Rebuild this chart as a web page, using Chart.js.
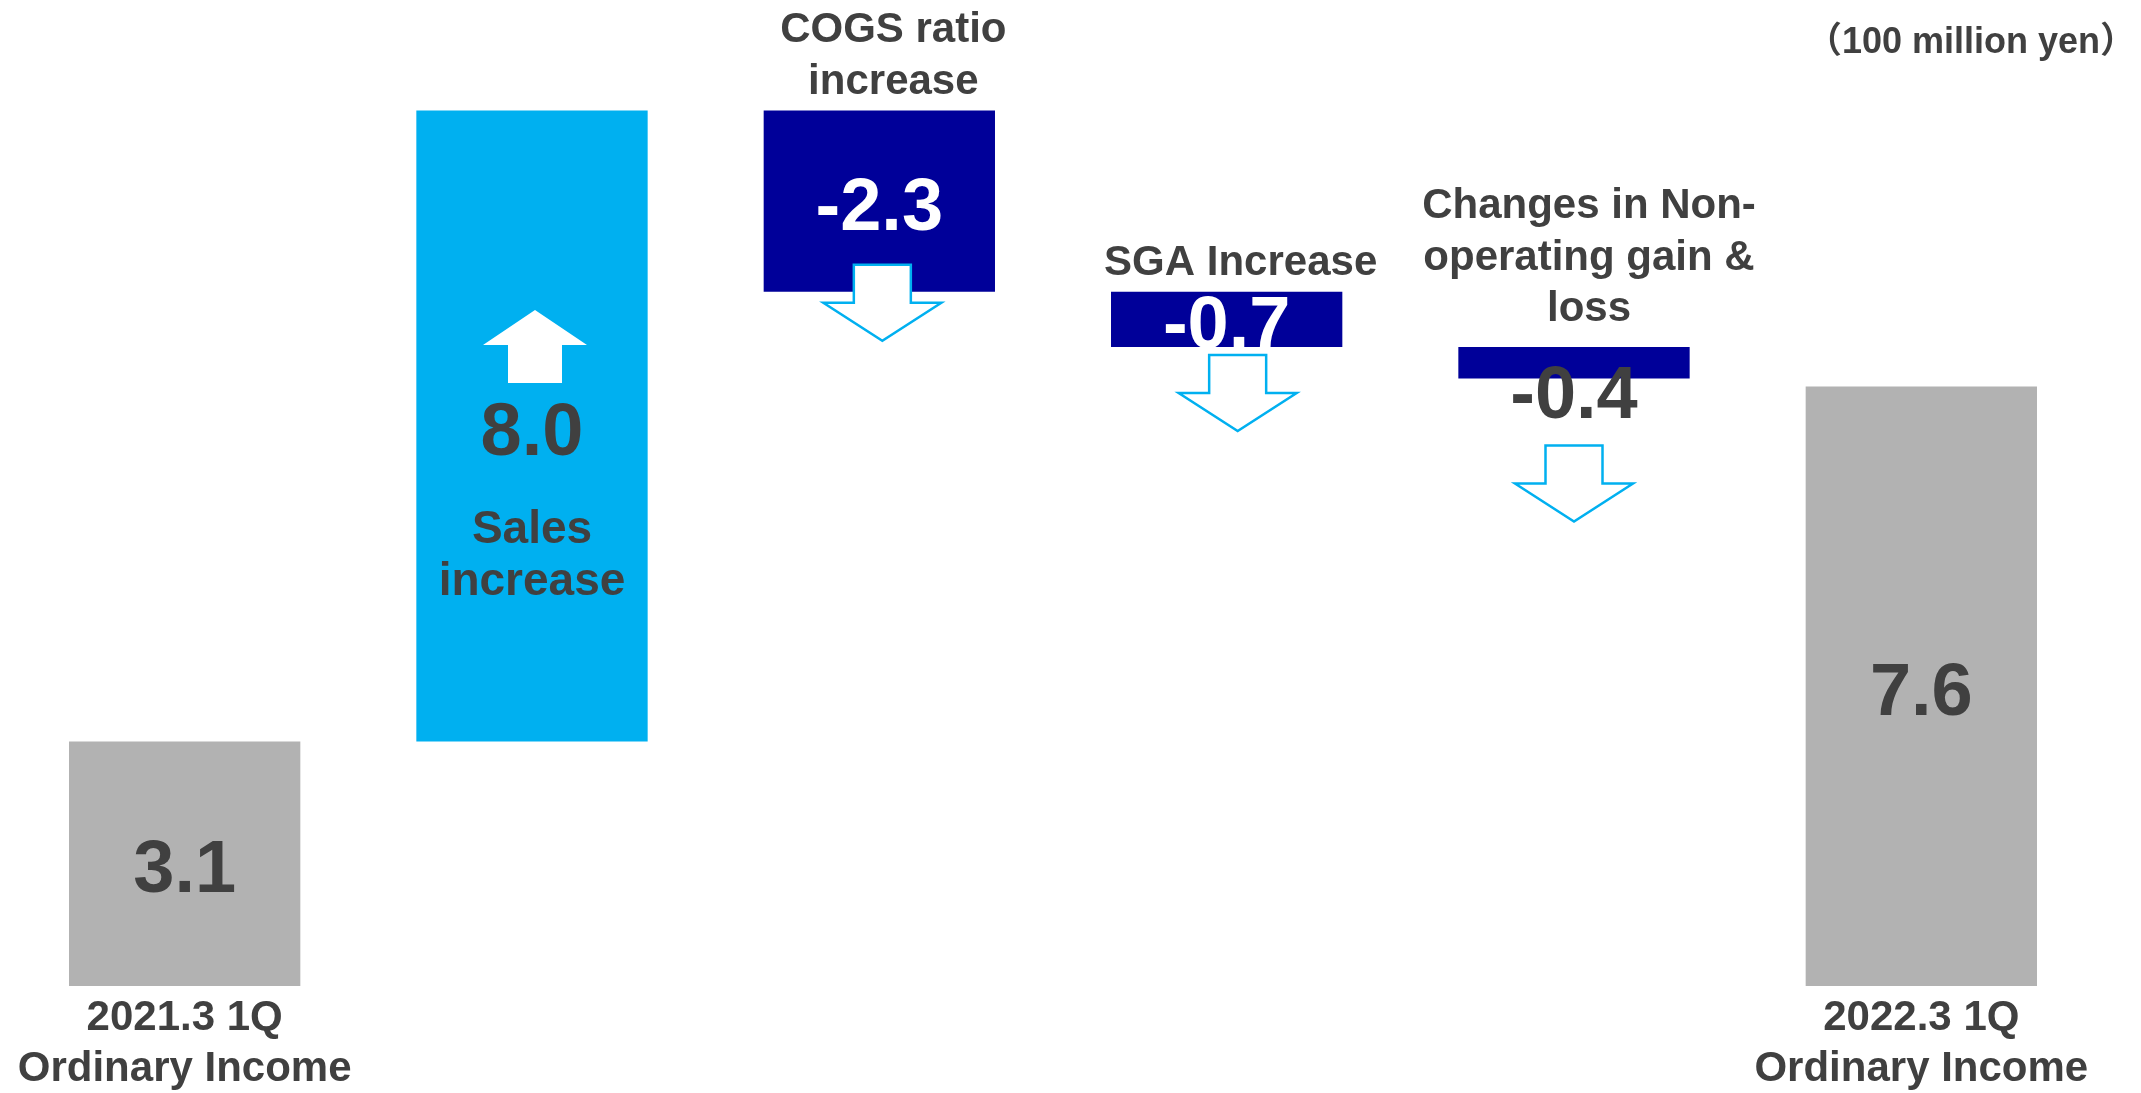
<!DOCTYPE html>
<html>
<head>
<meta charset="utf-8">
<title>Ordinary Income Bridge</title>
<script src="https://cdn.jsdelivr.net/npm/chart.js@4.4.1/dist/chart.umd.min.js"></script>
<style>
    html, body { margin: 0; padding: 0; background: #ffffff; }
    canvas { display: block; }
</style>
</head>
<body>
<canvas id="bridgeChart" width="2141" height="1093"></canvas>
<script>

// Ordinary income bridge, 2021.3 1Q -> 2022.3 1Q (100 million yen)
const categories = [
    ['2021.3 1Q', 'Ordinary Income'],
    '',
    '',
    '',
    '',
    ['2022.3 1Q', 'Ordinary Income'],
]
const stepValues = [3.1, 8.0, -2.3, -0.7, -0.4, 7.6]
const stepTypes = ['total', 'increase', 'decrease', 'decrease', 'decrease', 'total']
const stepCaptions = [
    [],
    ['Sales', 'increase'],
    ['COGS ratio', 'increase'],
    ['SGA Increase'],
    ['Changes in Non-', 'operating gain &', 'loss'],
    [],
]
const unitLabel = '（100 million yen）'

const FONT = "'Liberation Sans', Arial, 'Noto Sans CJK JP', sans-serif"
const TEXT_GREY = '#404040'
const typeColors = {
    total: '#B2B2B2',
    increase: '#00B0F0',
    decrease: '#000099',
}

// floating [start, end] ranges built from the running total
let runningTotal = 0
const barRanges = stepValues.map(function(v, i) {
    if (stepTypes[i] === 'total') {
        runningTotal = v
        return [0, v]
    }
    const start = runningTotal
    runningTotal = runningTotal + v
    return [start, runningTotal]
})

// per-bar label / arrow placement (pixels, relative to the bar)
const decor = [
    { valueColor: TEXT_GREY },
    { valueColor: TEXT_GREY, arrow: 'up' },
    { valueColor: '#FFFFFF', arrow: 'down', arrowDx: 3, arrowTop: -27, captionDx: 14, captionGap: 32 },
    { valueColor: '#FFFFFF', arrow: 'down', arrowDx: 11, arrowTop: 8, captionDx: 14, captionGap: 32 },
    { valueColor: TEXT_GREY, arrow: 'down', arrowDx: 0, arrowTop: 67, captionDx: 15, captionGap: 41, valueBelow: 13 },
    { valueColor: TEXT_GREY },
]

function drawText(ctx, text, x, cy, size, color, align) {
    ctx.font = 'bold ' + size + 'px ' + FONT
    ctx.fillStyle = color
    ctx.textAlign = align || 'center'
    ctx.textBaseline = 'alphabetic'
    // cy is the middle of the capitals
    ctx.fillText(text, x, cy + size * 0.36)
}

function drawUpArrow(ctx, x, bottom) {
    const shaft = 27, head = 52
    const baseY = bottom - 38
    const tipY = baseY - 35
    ctx.beginPath()
    ctx.moveTo(x - shaft, bottom)
    ctx.lineTo(x - shaft, baseY)
    ctx.lineTo(x - head, baseY)
    ctx.lineTo(x, tipY)
    ctx.lineTo(x + head, baseY)
    ctx.lineTo(x + shaft, baseY)
    ctx.lineTo(x + shaft, bottom)
    ctx.closePath()
    ctx.fillStyle = '#FFFFFF'
    ctx.fill()
}

function drawDownArrow(ctx, x, top) {
    const shaft = 28.5, head = 59
    const baseY = top + 38
    const tipY = baseY + 38
    ctx.beginPath()
    ctx.moveTo(x - shaft, top)
    ctx.lineTo(x - shaft, baseY)
    ctx.lineTo(x - head, baseY)
    ctx.lineTo(x, tipY)
    ctx.lineTo(x + head, baseY)
    ctx.lineTo(x + shaft, baseY)
    ctx.lineTo(x + shaft, top)
    ctx.closePath()
    ctx.fillStyle = '#FFFFFF'
    ctx.fill()
    ctx.lineWidth = 2.5
    ctx.lineJoin = 'miter'
    ctx.strokeStyle = '#00B0F0'
    ctx.stroke()
}

const bridgeDecor = {
    id: 'bridgeDecor',
    afterDatasetsDraw: function(chart) {
        const ctx = chart.ctx
        const bars = chart.getDatasetMeta(0).data
        ctx.save()

        bars.forEach(function(bar, i) {
            const d = decor[i]
            const top = Math.min(bar.y, bar.base)
            const bottom = Math.max(bar.y, bar.base)
            const mid = (top + bottom) / 2

            // value label
            const valueY = d.valueBelow ? bottom + d.valueBelow : mid + 2
            drawText(ctx, stepValues[i].toFixed(1), bar.x, valueY, 74, d.valueColor)

            if (d.arrow === 'up') {
                drawUpArrow(ctx, bar.x + 3, mid - 43)
                // caption sits inside the bar, under the value
                stepCaptions[i].forEach(function(line, k) {
                    drawText(ctx, line, bar.x, mid + 100 + k * 52, 46, TEXT_GREY)
                })
            } else if (d.arrow === 'down') {
                drawDownArrow(ctx, bar.x + d.arrowDx, bottom + d.arrowTop)
                const lines = stepCaptions[i]
                lines.forEach(function(line, k) {
                    const fromLast = lines.length - 1 - k
                    drawText(ctx, line, bar.x + d.captionDx, top - d.captionGap - fromLast * 51.5, 42, TEXT_GREY)
                })
            }
        })

        drawText(ctx, unitLabel, 2136, 40, 36, TEXT_GREY, 'right')
        ctx.restore()
    }
}

const bridgeChart = new Chart(document.getElementById('bridgeChart'), {
    type: 'bar',
    data: {
        labels: categories,
        datasets: [{
            data: barRanges,
            backgroundColor: stepTypes.map(function(t) { return typeColors[t] }),
            borderWidth: 0,
            barPercentage: 0.666,
            categoryPercentage: 1.0,
        }],
    },
    options: {
        responsive: false,
        animation: false,
        layout: {
            padding: { top: 0, left: 11, right: 46, bottom: 0 },
        },
        plugins: {
            legend: { display: false },
            tooltip: { enabled: false },
        },
        scales: {
            x: {
                grid: { display: false, drawTicks: false },
                border: { display: false },
                ticks: {
                    padding: 7,
                    color: TEXT_GREY,
                    font: { family: FONT, size: 42, weight: 'bold', lineHeight: 1.22 },
                    maxRotation: 0,
                    autoSkip: false,
                },
                afterFit: function(scale) {
                    scale.height = 107
                },
            },
            y: {
                display: false,
                min: 0,
                max: 12.5,
            },
        },
    },
    plugins: [bridgeDecor],
})

</script>
</body>
</html>
